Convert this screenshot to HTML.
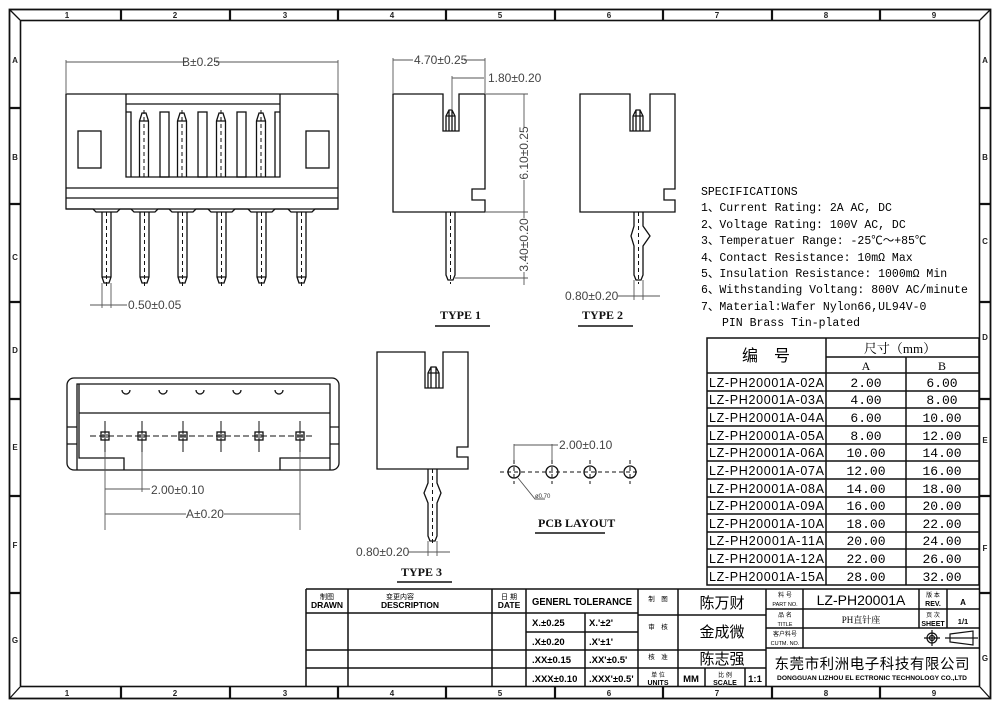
<!DOCTYPE html>
<html><head><meta charset="utf-8"><style>
body{margin:0;background:#fff}
svg{display:block}
.t{font-family:"Liberation Sans","Noto Sans CJK SC",sans-serif}
.m{font-family:"Liberation Mono","Noto Sans CJK SC",monospace}
.s{font-family:"Liberation Serif","Noto Serif CJK SC",serif}
.d{font-family:"Liberation Sans",sans-serif;font-size:12px;fill:#444}
</style></head><body>
<svg width="1000" height="707" viewBox="0 0 1000 707" xmlns="http://www.w3.org/2000/svg" fill="none" stroke="#111" stroke-width="1.3">
<!-- frames -->
<rect x="9.5" y="9.5" width="981" height="689" stroke-width="1.8"/>
<rect x="20.5" y="20.5" width="959" height="666" stroke-width="1.6"/>
<path d="M10 10L20 20M990 10L980 20M10 698L20 687M990 698L980 687"/>
<g stroke-width="2.2">
<path d="M121 10V20M230 10V20M338 10V20M446 10V20M555 10V20M663 10V20M772 10V20M880 10V20"/>
<path d="M121 687V698M230 687V698M338 687V698M446 687V698M555 687V698M663 687V698M772 687V698M880 687V698"/>
<path d="M10 108H20M10 204H20M10 302H20M10 399H20M10 496H20M10 593H20"/>
<path d="M980 108H990M980 204H990M980 302H990M980 399H990M980 496H990M980 593H990"/>
</g>
<g class="t" font-size="8" fill="#222" stroke="none" text-anchor="middle" font-weight="bold">
<text x="67" y="18">1</text><text x="175" y="18">2</text><text x="285" y="18">3</text><text x="392" y="18">4</text><text x="500" y="18">5</text><text x="609" y="18">6</text><text x="717" y="18">7</text><text x="826" y="18">8</text><text x="934" y="18">9</text>
<text x="67" y="696">1</text><text x="175" y="696">2</text><text x="285" y="696">3</text><text x="392" y="696">4</text><text x="500" y="696">5</text><text x="609" y="696">6</text><text x="717" y="696">7</text><text x="826" y="696">8</text><text x="934" y="696">9</text>
<text x="15" y="63">A</text><text x="15" y="160">B</text><text x="15" y="260">C</text><text x="15" y="353">D</text><text x="15" y="450">E</text><text x="15" y="548">F</text><text x="15" y="643">G</text>
<text x="985" y="63">A</text><text x="985" y="160">B</text><text x="985" y="244">C</text><text x="985" y="340">D</text><text x="985" y="443">E</text><text x="985" y="551">F</text><text x="985" y="661">G</text>
</g>

<!-- FRONT VIEW -->
<g>
<path d="M66 94H338V209H66Z" fill="#fff"/>
<path d="M126 94V177H280V94M126 104H280M66 188H338M66 198H338"/>
<rect x="78" y="131" width="23" height="37"/><rect x="306" y="131" width="23" height="37"/>
<path d="M126 112H131V177M280 112H275V177"/>
<rect x="160" y="112" width="9" height="65"/><rect x="198" y="112" width="9" height="65"/><rect x="237" y="112" width="9" height="65"/>
<g id="tp"><path d="M139.5 177V121L142 113H146L148.5 121V177M139.5 121H148.5"/><path d="M144 110V177" stroke-dasharray="4 3" stroke-width="1"/></g>
<use href="#tp" x="38"/><use href="#tp" x="77"/><use href="#tp" x="117"/>
<path d="M66 209H93L96 212H117L120 209H131L134 212H155L158 209H169L172 212H193L196 209H208L211 212H232L235 209H248L251 212H272L275 209H288L291 212H312L315 209H338"/>
<g id="bp"><path d="M102 212V277L104 283H109L111 277V212M102 277H111"/><path d="M106.5 212V288" stroke-dasharray="4 3" stroke-width="1"/></g>
<use href="#bp" x="38"/><use href="#bp" x="76"/><use href="#bp" x="115"/><use href="#bp" x="155"/><use href="#bp" x="195"/>
<path d="M66 60V93M338 60V93M66 62H186M216 62H338" stroke="#555" stroke-width=".9"/>
<text class="d" x="201" y="66" text-anchor="middle" stroke="none">B±0.25</text>
<path d="M102 283V308M111 283V308M90 305H127" stroke="#555" stroke-width=".9"/>
<text class="d" x="128" y="309" stroke="none">0.50±0.05</text>
</g>

<!-- TYPE 1 -->
<g>
<path d="M393 94H443V131H459V94H485V189H472V200H485V212H393Z"/>
<path d="M446 131V116L449 110H452L455 116V131M446 116H455M449 110V131M452 110V131"/>
<path d="M446 212V275L448 280H453L455 275V212"/><path d="M450.5 212V284" stroke-dasharray="4 3" stroke-width="1"/>
<path d="M393 58V93M485 58V93M393 60H413M464 60H485M452 76V110M452 78H484M485 74V93" stroke="#555" stroke-width=".9"/>
<text class="d" x="414" y="64" stroke="none">4.70±0.25</text>
<text class="d" x="488" y="82" stroke="none">1.80±0.20</text>
<path d="M486 94H528M486 212H528M455 278H528M524 94V127M524 180V212M524 212V218M524 272V285" stroke="#555" stroke-width=".9"/>
<text class="d" transform="translate(528 153) rotate(-90)" text-anchor="middle" stroke="none">6.10±0.25</text>
<text class="d" transform="translate(528 245) rotate(-90)" text-anchor="middle" stroke="none">3.40±0.20</text>
<text class="s" x="440" y="319" font-size="12" fill="#111" stroke="none" font-weight="bold">TYPE   1</text>
<path d="M435 326H490" stroke-width="1.4"/>
</g>

<!-- TYPE 2 -->
<g>
<path d="M580 94H630V131H650V94H675V189H664V200H675V212H580Z"/>
<path d="M633 131V116L636 110H640L643 116V131M633 116H643M636 110V131M640 110V131"/>
<path d="M634 212V226L631 236L634 246V275L636 280H641L643 275V246L650 236L643 226V212"/>
<path d="M638.5 212V284" stroke-dasharray="4 3" stroke-width="1"/>
<path d="M634 280V300M643 280V300M618 296H660" stroke="#555" stroke-width=".9"/>
<text class="d" x="565" y="300" stroke="none">0.80±0.20</text>
<text class="s" x="582" y="319" font-size="12" fill="#111" stroke="none" font-weight="bold">TYPE   2</text>
<path d="M578 326H633" stroke-width="1.4"/>
</g>

<!-- TOP VIEW -->
<g>
<rect x="67" y="378" width="272" height="92" rx="7"/>
<path d="M77 470V384H330V470M79 384V458H124V470M330 458H280V470M79 413H330M67 427H77V444H67M339 427H330V444H339"/>
<path d="M122 384A4 4 0 0 0 130 384M159 384A4 4 0 0 0 167 384M196 384A4 4 0 0 0 204 384M233 384A4 4 0 0 0 241 384M275 384A4 4 0 0 0 283 384" transform="translate(0 6)"/>
<path d="M90 436H315" stroke-dasharray="6 3" stroke-width="1"/>
<g id="sq"><rect x="101" y="432" width="8" height="8"/><path d="M105 421V452M103 434V438M107 434V438" stroke-width="1"/></g>
<use href="#sq" x="37"/><use href="#sq" x="78"/><use href="#sq" x="116"/><use href="#sq" x="154"/><use href="#sq" x="195"/>
<path d="M105 452V530M142 452V492M300 452V530M105 489H150M105 514H186M224 514H300" stroke="#555" stroke-width=".9"/>
<text class="d" x="151" y="494" stroke="none">2.00±0.10</text>
<text class="d" x="205" y="518" text-anchor="middle" stroke="none">A±0.20</text>
</g>

<!-- TYPE 3 -->
<g>
<path d="M377 352H425V388H443V352H468V447H457V457H468V469H377Z"/>
<path d="M428 388V373L431 367H436L439 373V388M428 373H439M431 367V388M436 367V388"/>
<path d="M428 469V483L424 493L428 503V536L430 541H435L437 536V503L441 493L437 483V469"/>
<path d="M432.5 469V546" stroke-dasharray="4 3" stroke-width="1"/>
<path d="M428 541V556M437 541V556M408 552H450" stroke="#555" stroke-width=".9"/>
<text class="d" x="356" y="556" stroke="none">0.80±0.20</text>
<text class="s" x="401" y="576" font-size="12" fill="#111" stroke="none" font-weight="bold">TYPE   3</text>
<path d="M397 582H452" stroke-width="1.4"/>
</g>

<!-- PCB -->
<g>
<path d="M500 472H640" stroke-dasharray="4 3" stroke-width="1"/>
<g id="ho"><circle cx="514" cy="472" r="6"/><path d="M514 460V484" stroke-dasharray="4 3" stroke-width="1"/></g>
<use href="#ho" x="38"/><use href="#ho" x="76"/><use href="#ho" x="116"/>
<path d="M514 444V460M552 444V460M514 445H558M518 478L535 499H545" stroke="#555" stroke-width=".9"/>
<text class="d" x="559" y="449" stroke="none">2.00±0.10</text>
<text class="t" x="535" y="498" font-size="6" fill="#333" stroke="none">ø0.70</text>
<text class="s" x="538" y="527" font-size="12" fill="#111" stroke="none" font-weight="bold">PCB LAYOUT</text>
<path d="M535 533H605" stroke-width="1.4"/>
</g>

<!-- SPECS -->
<g class="m" font-size="11.5" fill="#000" stroke="none">
<text x="701" y="195">SPECIFICATIONS</text>
<text x="701" y="211">1、Current Rating: 2A AC, DC</text>
<text x="701" y="228">2、Voltage Rating: 100V AC, DC</text>
<text x="701" y="244">3、Temperatuer Range: -25℃～+85℃</text>
<text x="701" y="261">4、Contact Resistance: 10mΩ Max</text>
<text x="701" y="277">5、Insulation Resistance: 1000mΩ Min</text>
<text x="701" y="293">6、Withstanding Voltang: 800V AC/minute</text>
<text x="701" y="310">7、Material:Wafer Nylon66,UL94V-0</text>
<text x="722" y="326">PIN Brass Tin-plated</text>
</g>

<!-- TABLE -->
<g stroke-width="1.5">
<rect x="707" y="338" width="272" height="247"/>
<path d="M826 338V585M906 357V585M826 357H979M707 373H979"/>
<path d="M707 391H979M707 408H979M707 426H979M707 444H979M707 461H979M707 479H979M707 497H979M707 514H979M707 532H979M707 549H979M707 567H979"/>
</g>
<g class="t" font-size="12" fill="#000" stroke="none">
<text x="766" y="361" text-anchor="middle" font-size="16">编　号</text>
<text x="900" y="353" text-anchor="middle" class="s" font-size="13">尺寸（mm）</text>
<text x="866" y="370" text-anchor="middle" class="s">A</text><text x="942" y="370" text-anchor="middle" class="s">B</text>
</g>
<g class="t" font-size="12.5" fill="#000" stroke="none">
<text x="709" y="387" textLength="115">LZ-PH20001A-02A</text><text x="709" y="404" textLength="115">LZ-PH20001A-03A</text><text x="709" y="422" textLength="115">LZ-PH20001A-04A</text><text x="709" y="440" textLength="115">LZ-PH20001A-05A</text><text x="709" y="457" textLength="115">LZ-PH20001A-06A</text><text x="709" y="475" textLength="115">LZ-PH20001A-07A</text><text x="709" y="493" textLength="115">LZ-PH20001A-08A</text><text x="709" y="510" textLength="115">LZ-PH20001A-09A</text><text x="709" y="528" textLength="115">LZ-PH20001A-10A</text><text x="709" y="545" textLength="115">LZ-PH20001A-11A</text><text x="709" y="563" textLength="115">LZ-PH20001A-12A</text><text x="709" y="581" textLength="115">LZ-PH20001A-15A</text>
</g>
<g class="m" font-size="13" fill="#000" stroke="none" text-anchor="middle">
<text x="866" y="387">2.00</text><text x="866" y="404">4.00</text><text x="866" y="422">6.00</text><text x="866" y="440">8.00</text><text x="866" y="457">10.00</text><text x="866" y="475">12.00</text><text x="866" y="493">14.00</text><text x="866" y="510">16.00</text><text x="866" y="528">18.00</text><text x="866" y="545">20.00</text><text x="866" y="563">22.00</text><text x="866" y="581">28.00</text>
<text x="942" y="387">6.00</text><text x="942" y="404">8.00</text><text x="942" y="422">10.00</text><text x="942" y="440">12.00</text><text x="942" y="457">14.00</text><text x="942" y="475">16.00</text><text x="942" y="493">18.00</text><text x="942" y="510">20.00</text><text x="942" y="528">22.00</text><text x="942" y="545">24.00</text><text x="942" y="563">26.00</text><text x="942" y="581">32.00</text>
</g>

<!-- TITLE BLOCK -->
<g stroke-width="1.5">
<path d="M306 589H980M306 589V687"/>
<path d="M348 589V687M492 589V687M526 589V687M638 589V687M678 589V687M766 589V687M585 613V687"/>
<path d="M306 613H638M526 632H638M306 650H638M306 668H638"/>
<path d="M638 615H766M638 650H766M638 668H766M705 668V687M745 668V687"/>
<path d="M766 609H980M766 628H980M766 648H980M803 589V648M919 589V628M947 589V628"/>
</g>
<g class="t" fill="#000" stroke="none" text-anchor="middle">
<text x="327" y="599" font-size="7">制图</text><text x="327" y="608" font-size="8.5" font-weight="bold">DRAWN</text>
<text x="400" y="599" font-size="7">变更内容</text><text x="410" y="608" font-size="8.5" font-weight="bold">DESCRIPTION</text>
<text x="509" y="599" font-size="7">日 期</text><text x="509" y="608" font-size="8.5" font-weight="bold">DATE</text>
<text x="582" y="605" font-size="10.5" font-weight="bold" textLength="100" lengthAdjust="spacingAndGlyphs">GENERL  TOLERANCE</text>
<g font-size="9.5" font-weight="bold" text-anchor="start">
<text x="532" y="626">X.±0.25</text><text x="589" y="626">X.'±2'</text>
<text x="532" y="645">.X±0.20</text><text x="589" y="645">.X'±1'</text>
<text x="532" y="663">.XX±0.15</text><text x="589" y="663">.XX'±0.5'</text>
<text x="532" y="682">.XXX±0.10</text><text x="589" y="682">.XXX'±0.5'</text>
</g>
<text x="658" y="601" font-size="6.5">制　图</text>
<text x="658" y="629" font-size="6.5">审　核</text>
<text x="658" y="659" font-size="6.5">核　准</text>
<text x="658" y="677" font-size="6">单 位</text><text x="658" y="685" font-size="7" font-weight="bold">UNITS</text>
<text x="722" y="608" font-size="15">陈万财</text>
<text x="722" y="637" font-size="15">金成微</text>
<text x="722" y="664" font-size="15">陈志强</text>
<text x="691" y="682" font-size="9.5" font-weight="bold">MM</text>
<text x="725" y="677" font-size="6">比 例</text><text x="725" y="685" font-size="7" font-weight="bold">SCALE</text>
<text x="755" y="682" font-size="9.5" font-weight="bold">1:1</text>
<text x="785" y="597" font-size="6">料 号</text><text x="785" y="606" font-size="5.5">PART NO.</text>
<text x="785" y="617" font-size="6">品 名</text><text x="785" y="626" font-size="5.5">TITLE</text>
<text x="785" y="636" font-size="6">客户料号</text><text x="785" y="645" font-size="5.5">CUTM. NO.</text>
<text x="861" y="605" font-size="14">LZ-PH20001A</text>
<text x="861" y="623" font-size="9" class="s">PH直针座</text>
<text x="933" y="597" font-size="6">版 本</text><text x="933" y="606" font-size="7" font-weight="bold">REV.</text>
<text x="963" y="605" font-size="8" font-weight="bold">A</text>
<text x="933" y="617" font-size="6">页 次</text><text x="933" y="626" font-size="7" font-weight="bold">SHEET</text>
<text x="963" y="624" font-size="7.5" font-weight="bold">1/1</text>
<text x="872" y="669" font-size="14.5" textLength="195" lengthAdjust="spacing">东莞市利洲电子科技有限公司</text>
<text x="872" y="680" font-size="6.5" font-weight="bold" textLength="190" lengthAdjust="spacingAndGlyphs">DONGGUAN LIZHOU EL ECTRONIC TECHNOLOGY CO.,LTD</text>
</g>
<g stroke-width="1.2">
<circle cx="932" cy="638" r="5"/><circle cx="932" cy="638" r="2.5"/><path d="M924 638H940M932 630V646"/>
<path d="M950 634L973 631V645L950 642ZM945 638H978"/>
</g>
</svg>
</body></html>
